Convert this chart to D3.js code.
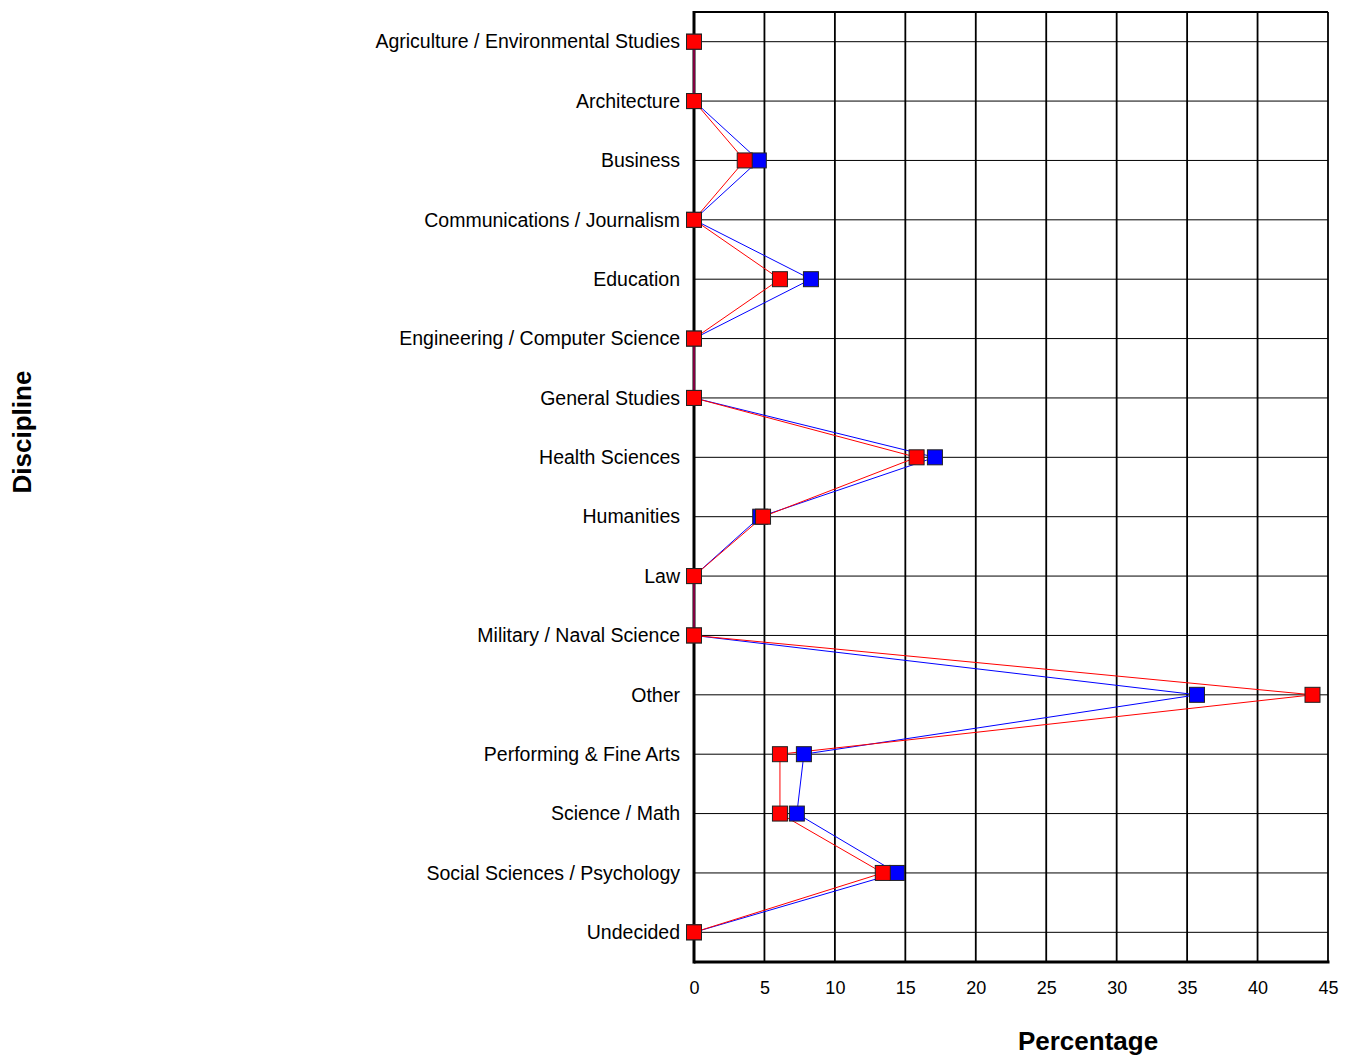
<!DOCTYPE html>
<html>
<head>
<meta charset="utf-8">
<script src="https://cdn.jsdelivr.net/npm/d3@7"></script>
<style>
  body { margin: 0; background: #fff; }
  text { font-family: "Liberation Sans", Arial, sans-serif; }
</style>
</head>
<body>
<svg id="chart" width="1353" height="1057"></svg>
<script>
// disciplines, top to bottom
const disciplines = [
  "Agriculture / Environmental Studies",
  "Architecture",
  "Business",
  "Communications / Journalism",
  "Education",
  "Engineering / Computer Science",
  "General Studies",
  "Health Sciences",
  "Humanities",
  "Law",
  "Military / Naval Science",
  "Other",
  "Performing & Fine Arts",
  "Science / Math",
  "Social Sciences / Psychology",
  "Undecided"
];

// percentage per discipline
const blueValues = [0, 0, 4.6, 0, 8.3, 0, 0, 17.1, 4.7, 0, 0, 35.7, 7.8, 7.3, 14.4, 0];
const redValues  = [0, 0, 3.6, 0, 6.1, 0, 0, 15.8, 4.9, 0, 0, 43.9, 6.1, 6.1, 13.4, 0];

const xTicks = [0, 5, 10, 15, 20, 25, 30, 35, 40, 45];

const margin = { top: 12, right: 25, bottom: 95, left: 694 };
const svg = d3.select("#chart");
const width = +svg.attr("width") - margin.left - margin.right;
const height = +svg.attr("height") - margin.top - margin.bottom;

const g = svg.append("g")
  .attr("transform", `translate(${margin.left},${margin.top})`);

const xScale = d3.scaleLinear()
  .domain([0, 45])
  .range([0, width]);

const yScale = d3.scalePoint()
  .domain(disciplines)
  .range([0, height])
  .padding(0.5);

// horizontal grid lines
g.selectAll(".hgrid")
  .data(disciplines)
  .enter().append("line")
  .attr("class", "hgrid")
  .attr("x1", 0).attr("x2", width)
  .attr("y1", d => yScale(d)).attr("y2", d => yScale(d))
  .attr("stroke", "#000")
  .attr("stroke-width", 1);

// vertical grid lines
g.selectAll(".vgrid")
  .data(xTicks.slice(1))
  .enter().append("line")
  .attr("class", "vgrid")
  .attr("x1", d => xScale(d)).attr("x2", d => xScale(d))
  .attr("y1", 0).attr("y2", height)
  .attr("stroke", "#000")
  .attr("stroke-width", 1.8);

// frame
g.append("line").attr("x1", 0).attr("x2", width).attr("y1", 0).attr("y2", 0)
  .attr("stroke", "#000").attr("stroke-width", 2);
g.append("line").attr("x1", 0).attr("x2", width + 1.5).attr("y1", height).attr("y2", height)
  .attr("stroke", "#000").attr("stroke-width", 3);
g.append("line").attr("x1", 0).attr("x2", 0).attr("y1", -1).attr("y2", height + 1.5)
  .attr("stroke", "#000").attr("stroke-width", 3);

// x axis labels
const xAxis = d3.axisBottom(xScale).tickValues(xTicks).tickSize(0).tickPadding(19);
g.append("g")
  .attr("transform", `translate(0,${height})`)
  .call(xAxis)
  .call(ax => ax.select(".domain").remove())
  .selectAll("text")
  .attr("font-size", 18)
  .attr("fill", "#000");

// y axis labels
const yAxis = d3.axisLeft(yScale).tickSize(0).tickPadding(14);
g.append("g")
  .call(yAxis)
  .call(ax => ax.select(".domain").remove())
  .selectAll("text")
  .attr("font-size", 19.5)
  .attr("fill", "#000");

const line = d3.line()
  .x(d => xScale(d))
  .y((d, i) => yScale(disciplines[i]));

function drawSeries(values, color) {
  g.append("path")
    .datum(values)
    .attr("fill", "none")
    .attr("stroke", color)
    .attr("stroke-width", 1)
    .attr("d", line);
}

function drawMarkers(values, color) {
  const s = 15;
  g.selectAll(null)
    .data(values)
    .enter().append("rect")
    .attr("x", d => xScale(d) - s / 2)
    .attr("y", (d, i) => yScale(disciplines[i]) - s / 2)
    .attr("width", s)
    .attr("height", s)
    .attr("fill", color)
    .attr("stroke", "#222")
    .attr("stroke-width", 1);
}

drawSeries(blueValues, "#0000ff");
drawSeries(redValues, "#ff0000");
drawMarkers(blueValues, "#0000ff");
drawMarkers(redValues, "#ff0000");

// axis titles
svg.append("text")
  .attr("x", 1088)
  .attr("y", 1050)
  .attr("text-anchor", "middle")
  .attr("font-size", 26)
  .attr("font-weight", "bold")
  .text("Percentage");

svg.append("text")
  .attr("transform", `translate(31,432) rotate(-90)`)
  .attr("text-anchor", "middle")
  .attr("font-size", 26)
  .attr("font-weight", "bold")
  .text("Discipline");
</script>
</body>
</html>
